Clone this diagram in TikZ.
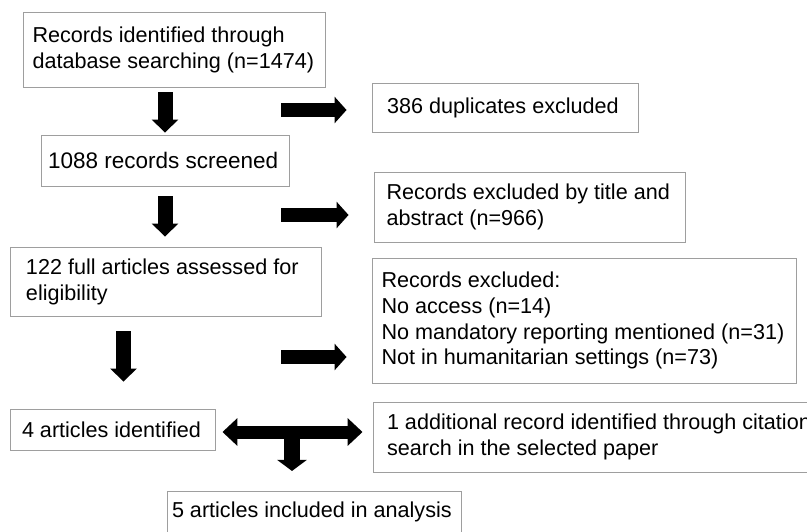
\documentclass[tikz,border=0pt]{standalone}
\usepackage{fontspec}
\setmainfont{Liberation Sans}
\usetikzlibrary{arrows.meta}
\definecolor{boxgray}{gray}{0.62}

\begin{document}
\begin{tikzpicture}[x=1pt,y=-1pt,
  font=\fontsize{21.6}{25.9}\selectfont,
  box/.style={draw=boxgray, line width=0.9pt, align=flush left, inner ysep=0pt},
  blockarrow/.style={line width=15pt, -{Triangle[width=26pt,length=13pt]}},
  sidearrow/.style={line width=14pt, shorten >=25pt, -{Triangle[width=26pt,length=12pt]}}]
\useasboundingbox (0,0) rectangle (807,531);
\clip (0,0) rectangle (807,531);

\node[box, minimum width=302pt, minimum height=75pt, inner xsep=9.5pt, text width=283pt] (rec) at (174,49.5) {Records identified through\\database searching (n=1474)};
\node[box, minimum width=248pt, minimum height=51pt, inner xsep=7pt, text width=234pt, font=\fontsize{22.5}{27}\selectfont] (scr) at (165,160.5) {1088 records screened};
\node[box, minimum width=311pt, minimum height=69pt, inner xsep=16pt, text width=279pt] (full) at (165.5,281.5) {122 full articles assessed for\\eligibility};
\node[box, minimum width=205pt, minimum height=41pt, inner xsep=12pt, text width=181pt] (four) at (112.5,429.5) {4 articles identified};
\node[box, minimum width=294pt, minimum height=42pt, inner xsep=5pt, text width=284pt] (five) at (314,512.4) {5 articles included in analysis};

\node[box, minimum width=266pt, minimum height=49pt, inner xsep=15pt, text width=236pt] (dup) at (505,107.5) {386 duplicates excluded};
\node[box, minimum width=311pt, minimum height=70pt, inner xsep=12.5pt, text width=286pt] (tit) at (529.5,207) {Records excluded by title and\\abstract (n=966)};
\node[box, minimum width=424pt, minimum height=125pt, inner xsep=9.5pt, text width=405pt] (excl) at (584,320.5) {Records excluded:\\No access (n=14)\\No mandatory reporting mentioned (n=31)\\Not in humanitarian settings (n=73)};
\node[box, minimum width=507pt, minimum height=70pt, inner xsep=14pt, text width=479pt] (add) at (626.5,437) {1 additional record identified through citation\\search in the selected paper};

\coordinate (s1) at (281,110);
\coordinate (s2) at (281,215);
\coordinate (s3) at (281,357);
\coordinate (tee) at (292,432);

\draw[blockarrow, shorten <=5pt, shorten >=2pt] (rec.south -| scr.north) -- (scr.north);
\draw[blockarrow, shorten <=10pt, shorten >=10pt] (scr.south) -- (scr.south |- full.north);
\draw[blockarrow, shorten <=15pt, shorten >=27pt] ([xshift=-42pt]full.south) -- ([xshift=-42pt]full.south |- four.north);

\draw[sidearrow] (s1) -- (s1 -| dup.west);
\draw[sidearrow] (s2) -- (s2 -| tit.west);
\draw[sidearrow] (s3) -- (s3 -| excl.west);

\draw[line width=13pt, {Triangle[width=27pt,length=15pt]}-{Triangle[width=27pt,length=15pt]}, shorten <=7pt, shorten >=10pt] (tee -| four.east) -- (tee -| add.west);
\draw[line width=16pt, -{Triangle[width=29pt,length=11pt]}, shorten >=20pt] (tee) -- (tee |- five.north);
\end{tikzpicture}
\end{document}
